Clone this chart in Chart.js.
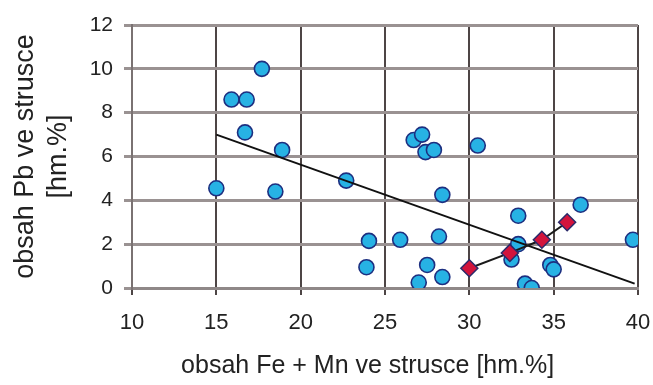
<!DOCTYPE html>
<html>
<head>
<meta charset="utf-8">
<script src="https://cdn.jsdelivr.net/npm/chart.js@4/dist/chart.umd.min.js"></script>
<style>
  html, body { margin: 0; padding: 0; background: #fff; }
  #wrap { width: 653px; height: 385px; }
</style>
</head>
<body>
<div id="wrap"><canvas id="plot" width="653" height="385"></canvas></div>
<script>
// slag samples: Fe + Mn (x) vs Pb (y), in hm.%
const slagFeMn = [15.0, 15.9, 16.8, 16.7, 17.7, 18.5, 18.9, 22.7, 23.9, 24.05,
  25.9, 26.7, 27.0, 27.2, 27.4, 27.5, 27.9, 28.2, 28.4, 28.4,
  30.5, 32.5, 32.9, 32.9, 33.3, 33.7, 34.8, 35.0, 36.6, 39.7];
const slagPb = [4.55, 8.6, 8.6, 7.1, 10.0, 4.4, 6.3, 4.9, 0.95, 2.15,
  2.2, 6.75, 0.25, 7.0, 6.2, 1.05, 6.3, 2.35, 4.25, 0.5,
  6.5, 1.3, 3.3, 2.0, 0.2, 0.0, 1.05, 0.85, 3.8, 2.2];

// highlighted samples (red diamonds)
const redFeMn = [30.0, 32.4, 34.3, 35.8];
const redPb = [0.9, 1.6, 2.2, 3.0];

// linear trend of all samples
const trendFeMn = [15.0, 39.8];
const trendPb = [7.0, 0.2];

const xTicks = [10, 15, 20, 25, 30, 35, 40];
const yTicks = [0, 2, 4, 6, 8, 10, 12];

const toPts = (xs, ys) => xs.map((x, i) => ({ x, y: ys[i] }));
const family = "'Liberation Sans', Arial, sans-serif";
const tickFont = { family, size: 21 };

new Chart(document.getElementById("plot"), {
  type: 'scatter',
  data: {
    datasets: [
      {
        label: 'red',
        data: toPts(redFeMn, redPb),
        showLine: true,
        borderColor: '#1a1a1a',
        borderWidth: 2,
        pointStyle: 'rectRot',
        pointRadius: 8.5,
        pointBackgroundColor: '#d2143c',
        pointBorderColor: '#2a2a6a',
        pointBorderWidth: 1.5,
        order: 0
      },
      {
        label: 'trend',
        data: toPts(trendFeMn, trendPb),
        showLine: true,
        borderColor: '#111',
        borderWidth: 2,
        pointRadius: 0,
        order: 1
      },
      {
        label: 'slag',
        data: toPts(slagFeMn, slagPb),
        pointRadius: 7.5,
        pointBackgroundColor: '#27b2e4',
        pointBorderColor: '#1d2f80',
        pointBorderWidth: 1.6,
        order: 2
      }
    ]
  },
  options: {
    responsive: false,
    animation: false,
    layout: { padding: { top: 25, right: 15, left: 0, bottom: 0 } },
    plugins: { legend: { display: false }, tooltip: { enabled: false } },
    scales: {
      x: {
        type: 'linear',
        min: 10, max: 40,
        afterBuildTicks: s => { s.ticks = xTicks.map(v => ({ value: v })); },
        afterFit: s => { s.height = 97; s.paddingLeft = 0; s.paddingRight = 0; },
        grid: { color: '#4d4545', lineWidth: 2, tickLength: 7 },
        border: { color: '#8f8888', width: 3 },
        ticks: { color: '#222', font: { family, size: 22 }, padding: 15 },
        title: { display: true, text: 'obsah Fe + Mn ve strusce [hm.%]     ', color: '#222', font: { family, size: 25 }, padding: { top: 0 } }
      },
      y: {
        type: 'linear',
        min: 0, max: 12,
        afterBuildTicks: s => { s.ticks = yTicks.map(v => ({ value: v })); },
        afterFit: s => { s.width = 132; s.paddingTop = 0; s.paddingBottom = 0; },
        grid: { color: '#9a9292', lineWidth: 3, tickLength: 8 },
        border: { color: '#7a7272', width: 2 },
        ticks: { color: '#222', font: tickFont, padding: 11 },
        title: { display: true, text: ['obsah Pb ve strusce', '[hm.%]'], color: '#222', font: { family, size: 27, lineHeight: 1.22 }, padding: { top: 9, bottom: 0 } }
      }
    }
  }
});
</script>
</body>
</html>
